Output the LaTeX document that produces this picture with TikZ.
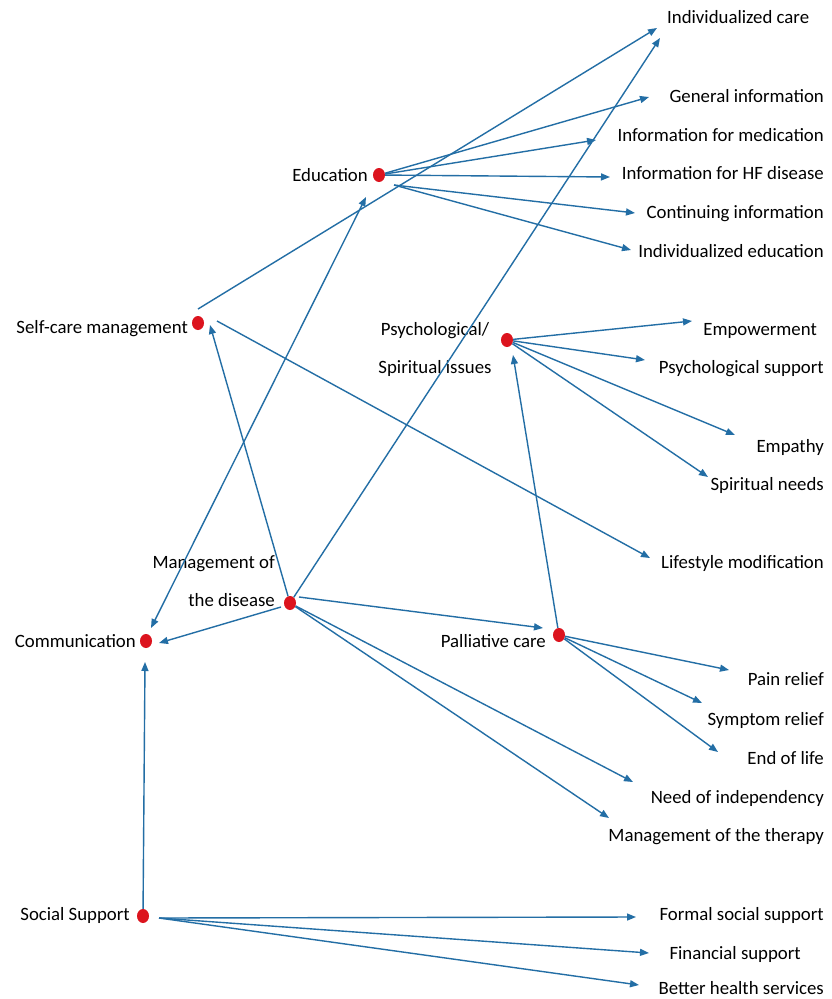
\documentclass[tikz,border=0pt]{standalone}
\usepackage{fontspec}
\setmainfont{Carlito}
\usetikzlibrary{arrows.meta,shapes.geometric}
\definecolor{lineblue}{RGB}{35,110,165}
\definecolor{dotred}{RGB}{220,20,30}
\begin{document}
\begin{tikzpicture}[x=1pt,y=-1pt,
  dot/.style={ellipse,fill=dotred,inner sep=0pt,minimum width=12pt,minimum height=14pt},
  lbl/.style={inner sep=0pt,yshift=-4pt,font=\fontsize{18.8}{22}\selectfont},
  lbltwo/.style={inner sep=0pt,yshift=-1pt,font=\fontsize{18.8}{38}\selectfont},
  arr/.style={draw=lineblue,line width=1.4pt,-{Triangle[length=9pt,width=7pt]}},
  arrboth/.style={draw=lineblue,line width=1.4pt,{Triangle[length=9pt,width=7pt]}-{Triangle[length=9pt,width=7pt]}}
]
\useasboundingbox[fill=white] (0,0) rectangle (831,999);

% dots
\node[dot] (edu) at (379,175) {};
\node[dot] (self) at (198,323) {};
\node[dot] (psy) at (507,340) {};
\node[dot] (mgmt) at (290,603) {};
\node[dot] (comm) at (146,641) {};
\node[dot] (pall) at (559,635) {};
\node[dot] (soc) at (143,916) {};

% labels of the dots
\node[lbl,anchor=mid east] (eduL) at (368,175) {Education};
\node[lbl,anchor=mid east] (selfL) at (188,327) {Self-care management};
\node[lbltwo,align=center] (psyL) at (435,348) {Psychological/\\Spiritual issues};
\node[lbltwo,align=right,anchor=east] (mgmtL) at (275,580) {Management of\\the disease};
\node[lbl,anchor=mid east] (commL) at (136,641) {Communication};
\node[lbl,anchor=mid east] (pallL) at (546,641) {Palliative care};
\node[lbl,anchor=mid east] (socL) at (130,914) {Social Support};

% outcome labels
\node[lbl,anchor=mid west] (icL) at (667,17) {Individualized care};
\node[lbl,anchor=mid east] (giL) at (824,96) {General information};
\node[lbl,anchor=mid east] (imL) at (824,135) {Information for medication};
\node[lbl,anchor=mid east] (hfL) at (824,173) {Information for HF disease};
\node[lbl,anchor=mid east] (ciL) at (824,212) {Continuing information};
\node[lbl,anchor=mid east] (ieL) at (824,251) {Individualized education};
\node[lbl,anchor=mid east] (empL) at (817,329) {Empowerment};
\node[lbl,anchor=mid east] (psL) at (824,367) {Psychological support};
\node[lbl,anchor=mid east] (empaL) at (824,446) {Empathy};
\node[lbl,anchor=mid east] (snL) at (824,484) {Spiritual needs};
\node[lbl,anchor=mid east] (lmL) at (824,562) {Lifestyle modification};
\node[lbl,anchor=mid east] (prL) at (824,679) {Pain relief};
\node[lbl,anchor=mid east] (srL) at (824,719) {Symptom relief};
\node[lbl,anchor=mid east] (elL) at (824,758) {End of life};
\node[lbl,anchor=mid east] (niL) at (824,797) {Need of independency};
\node[lbl,anchor=mid east] (mtL) at (824,835) {Management of the therapy};
\node[lbl,anchor=mid east] (fsL) at (824,914) {Formal social support};
\node[lbl,anchor=mid east] (finL) at (801,953) {Financial support};
\node[lbl,anchor=mid east] (bhL) at (824,988) {Better health services};

% arrow ends
\coordinate (tIC1) at (657,28);
\coordinate (tIC2) at (660,38);
\coordinate (tGI) at (649,97);
\coordinate (tIM) at (596,140);
\coordinate (tHF) at (610,177);
\coordinate (tCI) at (635,213);
\coordinate (tIE) at (631,250);
\coordinate (eduS) at (394,185);
\coordinate (tEdu) at (366,197);
\coordinate (tComm) at (151,628);
\coordinate (selfA) at (198,309);
\coordinate (selfB) at (217,321);
\coordinate (tSelf) at (210,325);
\coordinate (tLM) at (650,558);
\coordinate (tEmp) at (692,321);
\coordinate (tPS) at (645,360);
\coordinate (tEmpa) at (735,435);
\coordinate (tSN) at (708,477);
\coordinate (tPsy) at (513,355);
\coordinate (mgA) at (281,607);
\coordinate (tComm2) at (159,643);
\coordinate (mgB) at (299,597);
\coordinate (tPall) at (543,628);
\coordinate (tNI) at (633,782);
\coordinate (tMT) at (609,818);
\coordinate (tPR) at (729,670);
\coordinate (tSR) at (702,703);
\coordinate (tEL) at (718,752);
\coordinate (tComm3) at (145,662);
\coordinate (socS) at (159,918);
\coordinate (tFS) at (636,917);
\coordinate (tFin) at (649,953);
\coordinate (tBH) at (639,985);

% Education
\draw[arr] (edu) -- (tGI);
\draw[arr] (edu) -- (tIM);
\draw[arr] (edu) -- (tHF);
\draw[arr] (eduS) -- (tCI);
\draw[arr] (eduS) -- (tIE);
\draw[arrboth] (tComm) -- (tEdu);

% Self-care
\draw[arr] (selfA) -- (tIC1);
\draw[arr] (selfB) -- (tLM);

% Psychological
\draw[arr] (psy) -- (tEmp);
\draw[arr] (psy) -- (tPS);
\draw[arr] (psy) -- (tEmpa);
\draw[arr] (psy) -- (tSN);

% Management of the disease
\draw[arr] (mgmt) -- (tIC2);
\draw[arr] (mgmt) -- (tSelf);
\draw[arr] (mgA) -- (tComm2);
\draw[arr] (mgB) -- (tPall);
\draw[arr] (mgmt) -- (tNI);
\draw[arr] (mgmt) -- (tMT);

% Palliative care
\draw[arr] (pall) -- (tPsy);
\draw[arr] (pall) -- (tPR);
\draw[arr] (pall) -- (tSR);
\draw[arr] (pall) -- (tEL);

% Social support
\draw[arr] (soc) -- (tComm3);
\draw[arr] (socS) -- (tFS);
\draw[arr] (socS) -- (tFin);
\draw[arr] (socS) -- (tBH);
\end{tikzpicture}
\end{document}
